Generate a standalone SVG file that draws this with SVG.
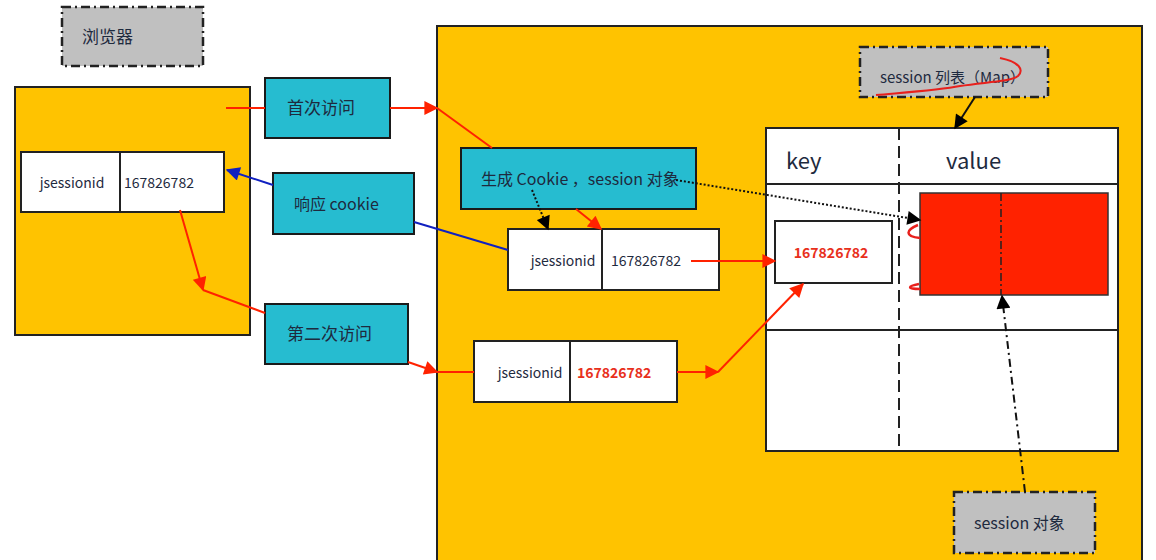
<svg xmlns="http://www.w3.org/2000/svg" width="1156" height="560" viewBox="0 0 1156 560">
<defs>
<style>
.yel{fill:#FFC300;stroke:#222;stroke-width:2}
.teal{fill:#26BCD0;stroke:#1a1a1a;stroke-width:2}
.gray{fill:#C0C0C0;stroke:#222;stroke-width:2.5;stroke-dasharray:9 4 2 4}
.wh{fill:#fff;stroke:#222;stroke-width:2}
.t{font-family:"Noto Sans CJK SC","Noto Sans",sans-serif;fill:#1e2a3e}
.s17{font-size:17px}
.s16{font-size:16px}
.s15{font-size:15px}
.s14{font-size:14px}
.red{stroke:#FF2200;stroke-width:2;fill:none}
.blue{stroke:#1020C0;stroke-width:2;fill:none}
.dot{stroke:#111;stroke-width:2;fill:none;stroke-dasharray:2 2}
.rt{fill:#E8301C;font-weight:bold}
</style>
<marker id="arr" viewBox="0 0 10 10" refX="9" refY="5" markerWidth="16" markerHeight="14" orient="auto" markerUnits="userSpaceOnUse"><path d="M0,0 L10,5 L0,10 z" fill="#FF2200"/></marker>
<marker id="arb" viewBox="0 0 10 10" refX="9" refY="5" markerWidth="16" markerHeight="14" orient="auto" markerUnits="userSpaceOnUse"><path d="M0,0 L10,5 L0,10 z" fill="#1020C0"/></marker>
<marker id="ark" viewBox="0 0 10 10" refX="9" refY="5" markerWidth="16" markerHeight="14" orient="auto" markerUnits="userSpaceOnUse"><path d="M0,0 L10,5 L0,10 z" fill="#000"/></marker>
</defs>
<rect width="1156" height="560" fill="#fff"/>

<g id="browser-label"><rect class="gray" x="62" y="7" width="141" height="59"/><text class="t s17" x="82" y="43">浏览器</text></g>

<g id="browser"><rect class="yel" x="15" y="87" width="235" height="248"/></g>

<g id="server"><rect class="yel" x="437" y="26" width="705" height="540"/></g>

<g id="cookie1"><rect class="wh" x="21" y="152" width="203" height="60"/><line x1="120" y1="152" x2="120" y2="212" stroke="#222" stroke-width="2"/><text class="t s14" x="72" y="188" text-anchor="middle">jsessionid</text><text class="t s14" x="124" y="188">167826782</text></g>

<g id="first-visit"><rect class="teal" x="265" y="78" width="125" height="60"/><text class="t s17" x="287" y="114">首次访问</text></g>

<g id="response-cookie"><rect class="teal" x="273" y="173" width="141" height="61"/><text class="t s16" x="294" y="210">响应 cookie</text></g>

<g id="second-visit"><rect class="teal" x="265" y="304" width="143" height="60"/><text class="t s17" x="287" y="340">第二次访问</text></g>

<g id="create"><rect class="teal" x="461" y="148" width="235" height="61"/><text class="t s16" x="481" y="185">生成 Cookie ，session 对象</text></g>

<g id="cookie2"><rect class="wh" x="508" y="229" width="211" height="61"/><line x1="602" y1="229" x2="602" y2="290" stroke="#222" stroke-width="2"/><text class="t s14" x="563" y="266" text-anchor="middle">jsessionid</text><text class="t s14" x="611" y="266">167826782</text></g>

<g id="cookie3"><rect class="wh" x="474" y="341" width="203" height="61"/><line x1="570" y1="341" x2="570" y2="402" stroke="#222" stroke-width="2"/><text class="t s14" x="530" y="378" text-anchor="middle">jsessionid</text><text class="t s14 rt" x="577" y="378">167826782</text></g>

<g id="map-label"><rect class="gray" x="860" y="47" width="188" height="50"/><text class="t s15" x="880" y="83">session 列表（Map）</text><path d="M876,95 C910,92 940,90 960,86 C985,82 1010,82 1018,76 C1024,70 1020,62 1000,58" stroke="#E8201C" stroke-width="2" fill="none"/></g>

<g id="map-table"><rect class="wh" x="766" y="128" width="352" height="323"/><line x1="766" y1="184" x2="1118" y2="184" stroke="#222" stroke-width="2"/><line x1="766" y1="330" x2="1118" y2="330" stroke="#222" stroke-width="2"/><line x1="899" y1="128" x2="899" y2="451" stroke="#222" stroke-width="2" stroke-dasharray="12 6"/><text class="t" x="786" y="169" font-size="22">key</text><text class="t" x="946" y="169" font-size="22">value</text></g>

<g id="key-cell"><rect class="wh" x="775" y="221" width="117" height="62"/><text class="t s14 rt" x="831" y="258" text-anchor="middle">167826782</text></g>

<g id="value-cell"><rect x="920" y="193" width="188" height="102" fill="#FF2200" stroke="#333" stroke-width="1.5"/><line x1="1001" y1="193" x2="1001" y2="295" stroke="#222" stroke-width="1.5" stroke-dasharray="8 3 2 3"/><path d="M918,225 C906,230 904,236 920,238" stroke="#E8201C" stroke-width="2.5" fill="none"/><path d="M919,284 C908,286 906,289 920,289" stroke="#E8201C" stroke-width="2.5" fill="none"/></g>

<g id="session-obj"><rect class="gray" x="954" y="492" width="141" height="61"/><text class="t s16" x="974" y="529">session 对象</text></g>

<g id="connectors">
<line class="red" x1="226" y1="108" x2="265" y2="108"/>
<line class="red" x1="390" y1="108" x2="437" y2="108" marker-end="url(#arr)"/>
<line class="red" x1="437" y1="108" x2="492" y2="148"/>
<line class="red" x1="576" y1="209" x2="601" y2="229" marker-end="url(#arr)"/>
<line class="dot" x1="532" y1="190" x2="548" y2="229" marker-end="url(#ark)"/>
<line class="blue" x1="273" y1="185" x2="227" y2="170" marker-end="url(#arb)"/>
<line class="blue" x1="414" y1="222" x2="508" y2="250"/>
<line class="red" x1="180" y1="210" x2="203" y2="290" marker-end="url(#arr)"/>
<line class="red" x1="203" y1="290" x2="265" y2="313"/>
<line class="red" x1="408" y1="362" x2="437" y2="372" marker-end="url(#arr)"/>
<line class="red" x1="437" y1="372" x2="474" y2="372"/>
<line class="red" x1="677" y1="372" x2="718" y2="372" marker-end="url(#arr)"/>
<line class="red" x1="718" y1="372" x2="803" y2="284" marker-end="url(#arr)"/>
<line class="red" x1="691" y1="261" x2="775" y2="261" marker-end="url(#arr)"/>
<line class="dot" x1="676" y1="180" x2="920" y2="220" marker-end="url(#ark)"/>
<line x1="975" y1="97" x2="955" y2="128" stroke="#111" stroke-width="2" marker-end="url(#ark)"/>
<line x1="1025" y1="492" x2="1002" y2="296" stroke="#111" stroke-width="2" stroke-dasharray="8 4 2 4" marker-end="url(#ark)"/>
</g>
</svg>
